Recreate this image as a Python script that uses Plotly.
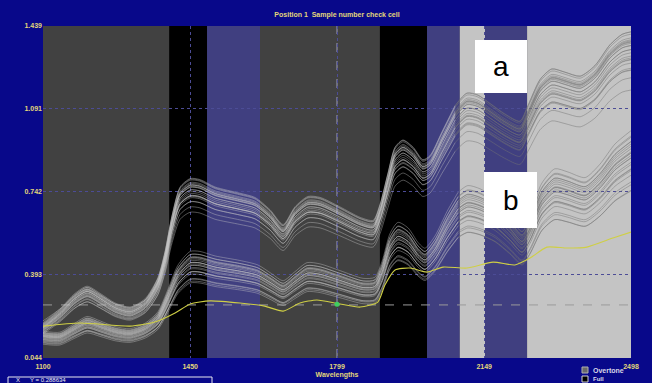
import plotly.graph_objects as go

# ---------------- data ----------------
# group "a" (upper cluster) – central spectrum
wl_a = [1100, 1140, 1176, 1205, 1236, 1271, 1307, 1343, 1373, 1390, 1407, 1426, 1450, 1473,
        1509, 1568, 1604, 1640, 1671, 1699, 1730, 1759, 1806, 1854, 1885, 1901, 1920, 1937,
        1956, 1980, 2003, 2020, 2049, 2080, 2108, 2134, 2163, 2198, 2234, 2253, 2282, 2310,
        2341, 2377, 2412, 2448, 2477, 2498]
abs_a = [0.170, 0.225, 0.288, 0.317, 0.288, 0.250, 0.233, 0.267, 0.351, 0.456, 0.603, 0.716,
         0.750, 0.746, 0.716, 0.691, 0.674, 0.624, 0.565, 0.636, 0.678, 0.674, 0.636, 0.594,
         0.582, 0.645, 0.771, 0.876, 0.905, 0.876, 0.826, 0.842, 0.939, 1.044, 1.094, 1.086,
         1.052, 1.010, 0.981, 1.044, 1.149, 1.191, 1.178, 1.162, 1.204, 1.288, 1.330, 1.340]
# per-spectrum offset / spread of group a
a_off = [0.000, 0.010, -0.012, 0.018, -0.020, 0.006, -0.006, 0.014, -0.015, 0.003, -0.002, 0.022,
         -0.025, 0.008, -0.010, 0.012, 0.000, -0.004, 0.016, -0.018, 0.005, 0.030, -0.008, 0.002]
a_gain = [0.00, 0.02, -0.02, 0.04, -0.05, 0.01, -0.03, 0.03, -0.06, 0.02, -0.01, 0.045,
          -0.08, 0.02, -0.04, 0.025, 0.00, -0.02, 0.05, -0.13, 0.01, -0.10, -0.03, 0.03]

# group "b" (lower cluster) – central spectrum
wl_b = [1100, 1140, 1176, 1205, 1236, 1271, 1307, 1343, 1373, 1397, 1421, 1450, 1473, 1509,
        1568, 1611, 1644, 1671, 1699, 1728, 1759, 1806, 1861, 1889, 1906, 1925, 1944, 1968,
        1992, 2008, 2032, 2061, 2087, 2110, 2139, 2175, 2210, 2239, 2258, 2286, 2317, 2348,
        2389, 2424, 2460, 2498]
abs_b = [0.132, 0.128, 0.162, 0.187, 0.170, 0.149, 0.141, 0.162, 0.204, 0.288, 0.380, 0.431,
         0.431, 0.414, 0.397, 0.380, 0.347, 0.321, 0.355, 0.389, 0.384, 0.359, 0.330, 0.334,
         0.393, 0.498, 0.540, 0.519, 0.464, 0.443, 0.489, 0.582, 0.653, 0.678, 0.666, 0.632,
         0.573, 0.519, 0.573, 0.687, 0.741, 0.729, 0.708, 0.758, 0.834, 0.884]
b_off = [0.000, 0.012, -0.015, 0.020, -0.025, 0.006, -0.008, 0.016, -0.030, 0.004, -0.003, 0.025,
         -0.018, 0.009, -0.012, 0.014, 0.001, -0.005, 0.018, -0.022, 0.007, 0.010, -0.010, 0.003]
b_gain = [0.00, 0.05, -0.04, 0.09, -0.10, 0.02, -0.06, 0.07, -0.14, 0.03, -0.02, 0.12,
          -0.16, 0.04, -0.08, 0.06, 0.00, -0.03, 0.10, -0.12, 0.02, 0.08, -0.05, 0.01]

# yellow reference spectrum
wl_y = [1100, 1188, 1307, 1366, 1414, 1450, 1497, 1568, 1627, 1671, 1711, 1751, 1806, 1854,
        1896, 1913, 1937, 1973, 2013, 2051, 2108, 2170, 2222, 2258, 2298, 2346, 2393, 2455, 2498]
abs_y = [0.178, 0.191, 0.178, 0.195, 0.233, 0.271, 0.284, 0.275, 0.262, 0.241, 0.275, 0.288,
         0.271, 0.258, 0.279, 0.351, 0.414, 0.422, 0.405, 0.426, 0.422, 0.447, 0.435, 0.464,
         0.510, 0.506, 0.510, 0.548, 0.573]

# spectral region bands
band_start = [1100, 1400, 1490, 1616, 1901, 2013, 2091, 2151, 2251]
band_end = [1400, 1490, 1616, 1901, 2013, 2091, 2151, 2251, 2498]
band_color = ["#414141", "#000000", "#403f80", "#414141", "#000000", "#403f80",
              "#c4c4c4", "#403f80", "#c4c4c4"]
light_region_start = 2085   # spectra drawn darker from here on (light background)

x_ticks = [1100, 1450, 1799, 2149, 2498]
y_ticks = [0.044, 0.393, 0.742, 1.091, 1.439]
y_tick_text = ["0.044", "0.393", "0.742", "1.091", "1.439"]
limit_level = 0.267
cursor_wl = 1799
cursor_abs = 0.270

# ---------------- figure ----------------
TXT = "#e2d77a"
fig = go.Figure()

col_dark_bg = "rgba(200,200,200,0.5)"
col_light_bg = "rgba(115,115,115,0.6)"


def add_spectrum(wl, ys):
    k = min(range(len(wl)), key=lambda i: abs(wl[i] - light_region_start))
    fig.add_trace(go.Scatter(x=wl[:k + 1], y=ys[:k + 1], mode="lines",
                             line=dict(color=col_dark_bg, width=0.8, shape="spline", smoothing=0.7),
                             hoverinfo="skip", showlegend=False))
    fig.add_trace(go.Scatter(x=wl[k:], y=ys[k:], mode="lines",
                             line=dict(color=col_light_bg, width=0.8, shape="spline", smoothing=0.7),
                             hoverinfo="skip", showlegend=False))


for off, g in zip(b_off, b_gain):
    add_spectrum(wl_b, [v + off + g * (v - abs_b[0]) for v in abs_b])
for off, g in zip(a_off, a_gain):
    add_spectrum(wl_a, [v + off + g * (v - abs_a[0]) for v in abs_a])

fig.add_trace(go.Scatter(x=wl_y, y=abs_y, mode="lines",
                         line=dict(color="#cfcf45", width=1.1, shape="spline", smoothing=0.6),
                         hoverinfo="skip", showlegend=False))
fig.add_trace(go.Scatter(x=[cursor_wl], y=[cursor_abs], mode="markers",
                         marker=dict(color="#3fcf5f", size=5),
                         hoverinfo="skip", showlegend=False))

shapes = []
for s, e, c in zip(band_start, band_end, band_color):
    shapes.append(dict(type="rect", xref="x", yref="paper", x0=s, x1=e, y0=0, y1=1,
                       fillcolor=c, line=dict(width=0), layer="below"))
# dashed limit line & cursor line
shapes.append(dict(type="line", xref="paper", yref="y", x0=0, x1=1, y0=limit_level, y1=limit_level,
                   line=dict(color="#9a9a9a", width=1, dash="dash"), layer="below"))
shapes.append(dict(type="line", xref="x", yref="paper", x0=cursor_wl, x1=cursor_wl, y0=0, y1=1,
                   line=dict(color="#9c9cbc", width=1, dash="dash"), layer="below"))
# white label boxes
shapes.append(dict(type="rect", xref="paper", yref="paper",
                   x0=(475 - 43) / 588, x1=(527 - 43) / 588,
                   y0=(358 - 93) / 332, y1=(358 - 40) / 332,
                   fillcolor="white", line=dict(width=0), layer="above"))
shapes.append(dict(type="rect", xref="paper", yref="paper",
                   x0=(484 - 43) / 588, x1=(537 - 43) / 588,
                   y0=(358 - 228) / 332, y1=(358 - 172) / 332,
                   fillcolor="white", line=dict(width=0), layer="above"))
# legend squares
shapes.append(dict(type="rect", xref="paper", yref="paper",
                   x0=(582 - 43) / 588, x1=(588 - 43) / 588,
                   y0=(358 - 373) / 332, y1=(358 - 367) / 332,
                   fillcolor="#6a6a6a", line=dict(color="#b0b0b0", width=1)))
shapes.append(dict(type="rect", xref="paper", yref="paper",
                   x0=(582 - 43) / 588, x1=(588 - 43) / 588,
                   y0=(358 - 382) / 332, y1=(358 - 376) / 332,
                   fillcolor="#000000", line=dict(color="#d0d0d0", width=1)))
# bottom-left status box
shapes.append(dict(type="rect", xref="paper", yref="paper",
                   x0=(8 - 43) / 588, x1=(212 - 43) / 588,
                   y0=(358 - 392) / 332, y1=(358 - 377) / 332,
                   fillcolor="rgba(0,0,0,0)", line=dict(color="#e8e8f0", width=1)))

annotations = [
    dict(text="a", xref="paper", yref="paper", x=(501 - 43) / 588, y=(358 - 66) / 332,
         xanchor="center", yanchor="middle", showarrow=False,
         font=dict(family="Liberation Sans", size=28, color="black")),
    dict(text="b", xref="paper", yref="paper", x=(511 - 43) / 588, y=(358 - 200) / 332,
         xanchor="center", yanchor="middle", showarrow=False,
         font=dict(family="Liberation Sans", size=28, color="black")),
    dict(text="Overtone", xref="paper", yref="paper", x=(591 - 43) / 588, y=(358 - 370) / 332,
         xanchor="left", yanchor="middle", showarrow=False,
         font=dict(family="Liberation Sans", size=7, color="#d8d8e8", weight="bold")),
    dict(text="Full", xref="paper", yref="paper", x=(591 - 43) / 588, y=(358 - 379) / 332,
         xanchor="left", yanchor="middle", showarrow=False,
         font=dict(family="Liberation Sans", size=6, color="#d8d8e8", weight="bold")),
    dict(text="X      Y = 0.288634", xref="paper", yref="paper", x=(14 - 43) / 588,
         y=(358 - 380) / 332, xanchor="left", yanchor="middle", showarrow=False,
         font=dict(family="Liberation Sans", size=6, color="#e8e8f0")),
]

tick_font = dict(family="Liberation Sans", size=7, color=TXT, weight="bold")
fig.update_layout(
    width=652, height=383,
    margin=dict(l=43, r=21, t=26, b=25, autoexpand=False),
    paper_bgcolor="#08088a",
    plot_bgcolor="#414141",
    title=dict(text="Position 1  Sample number check cell", x=337 / 652, xanchor="center",
               y=1 - 15 / 383, yanchor="middle",
               font=dict(family="Liberation Sans", size=7, color=TXT, weight="bold")),
    xaxis=dict(range=[1100, 2498], tickvals=x_ticks, ticktext=[str(t) for t in x_ticks],
               showgrid=True, gridcolor="#4c4c96", griddash="dot", gridwidth=1,
               zeroline=False, showline=False, ticks="", tickfont=tick_font,
               ticklabelstandoff=3, automargin=False,
               title=dict(text="Wavelengths", font=tick_font, standoff=3)),
    yaxis=dict(range=[0.044, 1.439], tickvals=y_ticks, ticktext=y_tick_text,
               showgrid=True, gridcolor="#4c4c96", griddash="dot", gridwidth=1,
               zeroline=False, showline=False, ticks="", tickfont=tick_font,
               automargin=False),
    shapes=shapes,
    annotations=annotations,
)

fig.write_html("out.html")
